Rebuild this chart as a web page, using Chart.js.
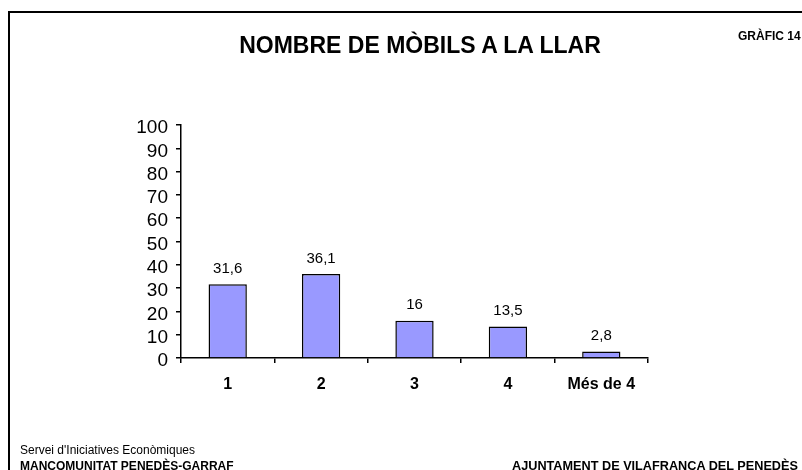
<!DOCTYPE html>
<html>
<head>
<meta charset="utf-8">
<script src="https://cdn.jsdelivr.net/npm/chart.js@4"></script>
<style>
    html, body { margin: 0; padding: 0; background: #fff; }
    #wrap { position: relative; width: 802px; height: 470px; overflow: hidden; font-family: "Liberation Sans", Arial, sans-serif; }
    #frame { position: absolute; left: 8px; top: 11px; width: 900px; height: 600px; border-left: 2px solid #000; border-top: 2px solid #000; }
    canvas { position: absolute; left: 0; top: 0; }
    .txt { position: absolute; color: #000; white-space: nowrap; }
    #title { left: 0; width: 840px; top: 32px; text-align: center; font-size: 23px; font-weight: bold; }
    #num { left: 738px; top: 29px; font-size: 12px; font-weight: bold; }
    #src1 { left: 20px; top: 443px; font-size: 12px; }
    #src2 { left: 20px; top: 459px; font-size: 12px; font-weight: bold; }
    #src3 { left: 512px; top: 459px; font-size: 12.7px; font-weight: bold; }
</style>
</head>
<body>
<div id="wrap">
    <div id="frame"></div>
    <canvas id="chart" width="802" height="470"></canvas>
    <div class="txt" id="title">NOMBRE DE MÒBILS A LA LLAR</div>
    <div class="txt" id="num">GRÀFIC 14</div>
    <div class="txt" id="src1">Servei d'Iniciatives Econòmiques</div>
    <div class="txt" id="src2">MANCOMUNITAT PENEDÈS-GARRAF</div>
    <div class="txt" id="src3">AJUNTAMENT DE VILAFRANCA DEL PENEDÈS</div>
</div>
<script>
// Data
const categories = ['1', '2', '3', '4', 'Més de 4'];
const percentages = [31.6, 36.1, 16, 13.5, 2.8];
const yTicks = [0, 10, 20, 30, 40, 50, 60, 70, 80, 90, 100];

const fontFamily = '"Liberation Sans", Arial, sans-serif';

// Value labels above the bars
const valueLabels = {
    id: 'valueLabels',
    afterDatasetsDraw(chart) {
        const ctx = chart.ctx;
        const meta = chart.getDatasetMeta(0);
        ctx.save();
        ctx.font = '15px ' + fontFamily;
        ctx.fillStyle = '#000';
        ctx.textAlign = 'center';
        ctx.textBaseline = 'bottom';
        meta.data.forEach((bar, i) => {
            const label = String(percentages[i]).replace('.', ',');
            ctx.fillText(label, bar.x, bar.y - 8);
        });
        ctx.restore();
    }
};

const chart = new Chart(document.getElementById('chart'), {
    type: 'bar',
    data: {
        labels: categories,
        datasets: [{
            data: percentages,
            backgroundColor: '#9999FF',
            borderColor: '#000',
            borderWidth: 1.5,
            categoryPercentage: 1,
            barPercentage: 0.41
        }]
    },
    options: {
        responsive: false,
        animation: false,
        layout: { padding: { left: 0, top: 125, right: 154, bottom: 0 } },
        plugins: {
            legend: { display: false },
            tooltip: { enabled: false }
        },
        scales: {
            y: {
                min: 0,
                max: 100,
                afterFit: (s) => { s.width = 181; },
                afterBuildTicks: (s) => { s.ticks = yTicks.map(v => ({ value: v })); },
                border: { color: '#000', width: 1.5 },
                grid: { drawOnChartArea: false, color: '#000', tickLength: 5, lineWidth: 1.5 },
                ticks: { color: '#000', padding: 8, labelOffset: 3, autoSkip: false, font: { size: 19, family: fontFamily } }
            },
            x: {
                afterFit: (s) => { s.height = 112; },
                border: { color: '#000', width: 1.5 },
                grid: { drawOnChartArea: false, color: '#000', tickLength: 5, lineWidth: 1.5, offset: true },
                ticks: { color: '#000', padding: 12, font: { size: 16, weight: 'bold', family: fontFamily } }
            }
        }
    },
    plugins: [valueLabels]
});
</script>
</body>
</html>
